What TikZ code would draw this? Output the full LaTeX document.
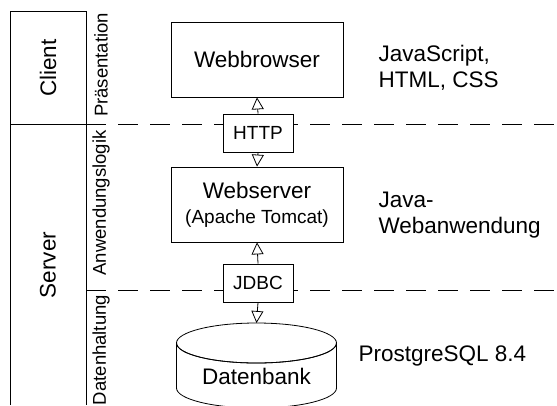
\documentclass[tikz,border=0pt]{standalone}
\usepackage{fontspec}
\setmainfont{Liberation Sans}
\usetikzlibrary{arrows.meta}
\newcommand{\fs}[1]{\fontsize{#1}{#1}\selectfont}
\tikzset{
  frame/.style={draw, line width=0.8pt},
  boxnode/.style={draw, line width=0.8pt, fill=white, inner sep=0pt},
  layer/.style={dash pattern=on 20pt off 12pt, line width=0.8pt},
  arr/.style={line width=0.8pt, -{Triangle[length=12pt, width=12pt, line width=0.8pt, fill=white]}},
  big/.style={font=\fontsize{22.5}{26}\selectfont},
  mid/.style={font=\fontsize{18.5}{20}\selectfont},
}
\begin{document}
\begin{tikzpicture}[x=1pt, y=-1pt]
\useasboundingbox (0,0) rectangle (557,405);
\clip (0,0) rectangle (557,405);

% layer separators
\draw[layer] (86,124) -- (557,124);
\draw[layer] (86,290) -- (557,290);

% tier column
\draw[frame] (10,405) -- (10,11) -- (86,11) -- (86,405);
\draw[frame] (10,124) -- (86,124);
\node[big, rotate=90] (client) at (48,68) {Client};
\node[big, rotate=90] (server) at (48,265) {Server};

% layer names
\node[mid, rotate=90] (praes) at (101,65) {Präsentation};
\node[mid, rotate=90] (logik) at (101,203) {Anwendungslogik};
\node[mid, rotate=90] (daten) at (101,350) {Datenhaltung};

% components
\node[boxnode, big, minimum width=172pt, minimum height=75pt] (wb) at (257,59.5) {Webbrowser};
\node[boxnode, minimum width=70pt, minimum height=38pt, font=\fs{19}] (http) at (258,133) {HTTP};
\node[boxnode, minimum width=172pt, minimum height=75pt, align=center,
      font=\fontsize{19}{25}\selectfont] (ws) at (257,204.5)
  {{\fontsize{22.5}{25}\selectfont Webserver}\\(Apache Tomcat)};
\node[boxnode, minimum width=70pt, minimum height=38pt, font=\fs{19}] (jdbc) at (258,283) {JDBC};

% database cylinder
\coordinate (dbtop) at (256.5,323);
\draw[frame, fill=white] (176.5,343) arc[start angle=180, end angle=360, x radius=80, y radius=-20]
  -- (336.5,388) arc[start angle=0, end angle=-180, x radius=80, y radius=-20] -- cycle;
\draw[frame] (256.5,343) ellipse[x radius=80, y radius=20];
\node[big] (db) at (256.5,376) {Datenbank};

% connectors
\draw[arr] (http.north) -- (wb.south);
\draw[arr] (http.south) -- (ws.north);
\draw[arr] (jdbc.north) -- (ws.south);
\draw[arr] (jdbc.south) -- (dbtop);

% technology notes
\node[big, anchor=west, align=left] (t1) at (375,68) {JavaScript,\\HTML, CSS};
\node[big, anchor=west, align=left] (t2) at (375,215) {Java-\\Webanwendung};
\node[big, anchor=west] (t3) at (355,356) {ProstgreSQL 8.4};
\end{tikzpicture}
\end{document}
